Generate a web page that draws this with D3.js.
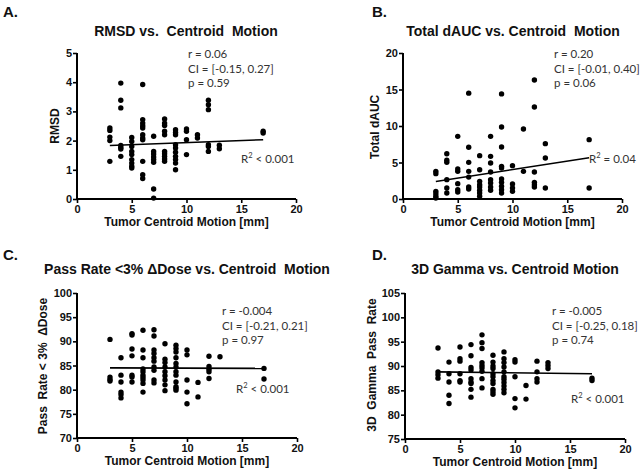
<!DOCTYPE html>
<html><head><meta charset="utf-8">
<script src="https://cdn.jsdelivr.net/npm/d3@7"></script>
<style>
html,body{margin:0;padding:0;background:#fff;}
svg text{white-space:pre;}
</style></head>
<body>
<svg id="chart" width="643" height="475"></svg>
<script>
// ---- data ----
const motionGroups = [3,4,5,6,7,8,9,10,11,12,13,17];

const rmsdValues = [
  [2.43,2.35,2.12,2.0,1.29],
  [3.97,3.38,3.12,1.83,1.76,1.71,1.46],
  [2.11,1.97,1.8,1.63,1.52,1.35,1.23,1.12,1.06],
  [3.92,2.72,2.6,2.51,2.43,2.2,2.09,2.03,1.29,0.83,0.7],
  [2.15,1.63,1.54,1.44,1.35,1.26,0.34,0.03],
  [2.74,2.6,2.52,2.32,2.2,1.63,1.55,1.46,1.37,1.29],
  [2.37,2.28,2.2,1.86,1.75,1.6,1.46,1.35,1.23,1.0],
  [2.4,2.32,2.03,1.52],
  [2.2,2.09],
  [3.38,3.23,3.06,1.86,1.8,1.63],
  [1.84,1.72],
  [2.32,2.26]
];
const daucValues = [
  [3.79,3.47,1.05,0.73,0.37,0.14],
  [6.2,5.3,5.02,2.65,1.5,0.82],
  [8.58,4.1,3.79,2.1,1.28,0.96],
  [14.5,7.08,5.02,3.79,3.0,1.64,1.37],
  [5.94,4.0,2.42,1.96,1.64,1.19,0.82,0.37],
  [8.58,5.84,4.93,3.7,2.65,2.19,1.64,1.19],
  [14.4,9.86,7.12,4.47,4.25,2.74,2.28,1.74,1.28,0.82],
  [4.57,2.05,1.5,1.05],
  [9.59,3.79],
  [16.3,12.6,3.7,2.28,1.96,1.64],
  [7.58,5.62,1.5],
  [8.13,1.5]
];
const passRateValues = [
  [90.4,82.6,82.1,81.8],
  [86.6,83.0,81.6,79.5,79.0,78.3],
  [91.6,91.3,88.4,87.0,83.0,82.6,81.6],
  [92.3,88.2,86.6,84.3,83.7,83.0,82.5,82.0,81.3,79.5],
  [92.4,91.1,88.2,87.5,86.6,85.9,84.7,84.0,82.0,81.4],
  [89.5,86.3,85.6,84.7,83.7,82.9,82.0,81.0,79.8],
  [89.2,88.5,87.8,86.6,85.4,84.7,83.7,83.0,81.6,80.6,80.3,79.9],
  [88.2,87.2,82.0,79.5,77.1],
  [81.5,78.5],
  [86.9,84.8,84.2,83.7,82.3],
  [86.8],
  [84.4,82.2]
];
const gammaValues = [
  [93.7,88.8,88.2,87.5],
  [90.8,88.4,86.7,84.0,82.3],
  [93.9,91.5,91.0,88.4,87.0,86.7],
  [94.4,92.1,89.7,89.2,87.4,86.7,86.4,85.2,83.6],
  [96.4,94.8,93.6,90.7,90.1,89.6,88.9,87.4,85.5],
  [92.2,90.8,90.0,89.5,88.4,87.8,87.0,86.4,85.2,84.7,84.2],
  [92.9,91.5,90.7,89.8,88.8,87.8,87.3,86.6,85.9,85.2,84.5],
  [91.3,90.8,87.8,83.3,81.4],
  [86.0,83.2],
  [91.0,88.8,87.4,86.7],
  [90.7,90.1,89.5],
  [87.5,87.0]
];

// regression lines (endpoints)
const rmsdFit = [[3,1.83],[17,2.03]];
const daucFit = [[3,2.4],[17,5.65]];
const passRateFit = [[3,84.5],[17,84.4]];
const gammaFit = [[3,88.8],[17,88.4]];

const xTicks = [0,5,10,15,20];
const rmsdTicks = [0,1,2,3,4,5];
const daucTicks = [0,5,10,15,20];
const passRateTicks = [70,75,80,85,90,95,100];
const gammaTicks = [75,80,85,90,95,100,105];

const rmsdStats = ["r = 0.06","CI = [-0.15, 0.27]","p = 0.59"];
const daucStats = ["r = 0.20","CI = [-0.01, 0.40]","p = 0.06"];
const passRateStats = ["r = -0.004","CI = [-0.21, 0.21]","p = 0.97"];
const gammaStats = ["r = -0.005","CI = [-0.25, 0.18]","p = 0.74"];

const rSquared = ["< 0.001","= 0.04","< 0.001","< 0.001"];

// ---- layout ----
const panels = [
  {letter:"A.", title:"RMSD vs.  Centroid  Motion", ylabel:"RMSD",
   values:rmsdValues, fit:rmsdFit, yTicks:rmsdTicks, stats:rmsdStats, r2:rSquared[0],
   x0:77, x1:296, yb:199, yt:53, lx:3, ly:17, tx:186, ty:36, ylx:55, yly:126,
   sx:188, sy:58, rx:241, ry:163},
  {letter:"B.", title:"Total dAUC vs. Centroid  Motion", ylabel:"Total dAUC",
   values:daucValues, fit:daucFit, yTicks:daucTicks, stats:daucStats, r2:rSquared[1],
   x0:403, x1:622, yb:199, yt:53, lx:372, ly:17, tx:513, ty:36, ylx:375, yly:127,
   sx:554, sy:58, rx:589, ry:163},
  {letter:"C.", title:"Pass Rate <3% \u0394Dose vs. Centroid  Motion", ylabel:"Pass  Rate < 3%  \u0394Dose",
   values:passRateValues, fit:passRateFit, yTicks:passRateTicks, stats:passRateStats, r2:rSquared[2],
   x0:77, x1:297, yb:438, yt:293, lx:3, ly:260, tx:187, ty:274, ylx:43, yly:366,
   sx:222, sy:315, rx:236, ry:393},
  {letter:"D.", title:"3D Gamma vs. Centroid Motion", ylabel:"3D  Gamma  Pass  Rate",
   values:gammaValues, fit:gammaFit, yTicks:gammaTicks, stats:gammaStats, r2:rSquared[3],
   x0:405, x1:625, yb:439, yt:293, lx:372, ly:260, tx:515, ty:274, ylx:372, yly:365,
   sx:552, sy:315, rx:571, ry:403}
];

const svg = d3.select("#chart");
const boldFont = "'Liberation Sans', Arial, sans-serif";
const statFont = "Lato, 'Open Sans', sans-serif";

panels.forEach(p => {
  const g = svg.append("g");
  const x = d3.scaleLinear().domain([0,20]).range([p.x0,p.x1]);
  const yDom = d3.extent(p.yTicks);
  const y = d3.scaleLinear().domain(yDom).range([p.yb,p.yt]);

  // panel letter & title
  g.append("text").attr("x",p.lx).attr("y",p.ly).text(p.letter)
    .attr("font-family",boldFont).attr("font-weight","bold").attr("font-size",15).attr("fill","#111");
  g.append("text").attr("x",p.tx).attr("y",p.ty).text(p.title)
    .attr("text-anchor","middle").attr("font-family",boldFont).attr("font-weight","bold")
    .attr("font-size",14).attr("fill","#111");

  // axes
  const xAxis = d3.axisBottom(x).tickValues(xTicks).tickFormat(d3.format("d")).tickSize(4).tickPadding(2);
  const yAxis = d3.axisLeft(y).tickValues(p.yTicks).tickFormat(d3.format("d")).tickSize(4).tickPadding(1);
  const gx = g.append("g").attr("transform",`translate(0,${p.yb})`).call(xAxis);
  const gy = g.append("g").attr("transform",`translate(${p.x0},0)`).call(yAxis);
  [gx,gy].forEach(a => {
    a.select(".domain").attr("stroke","#000").attr("stroke-width",2);
    a.selectAll(".tick line").attr("stroke","#000").attr("stroke-width",1.6);
    a.selectAll(".tick text").attr("font-family",boldFont).attr("font-weight","bold")
      .attr("font-size",11).attr("fill","#111");
  });
  gx.select(".domain").attr("d",`M${p.x0},0H${p.x1}`);
  gy.select(".domain").attr("d",`M0,${p.yt}V${p.yb}`);

  // axis titles
  g.append("text").attr("x",(p.x0+p.x1)/2).attr("y",p.yb+27).text("Tumor Centroid Motion [mm]")
    .attr("text-anchor","middle").attr("font-family",boldFont).attr("font-weight","bold")
    .attr("font-size",12).attr("fill","#111");
  g.append("text").attr("transform",`translate(${p.ylx},${p.yly}) rotate(-90)`)
    .attr("dy","0.35em").text(p.ylabel)
    .attr("text-anchor","middle").attr("font-family",boldFont).attr("font-weight","bold")
    .attr("font-size",12).attr("fill","#111");

  // points
  const pts = [];
  motionGroups.forEach((m,i) => p.values[i].forEach(v => pts.push([m,v])));
  g.append("g").selectAll("circle").data(pts).join("circle")
    .attr("cx",d=>x(d[0])).attr("cy",d=>y(d[1])).attr("r",2.7).attr("fill","#000");

  // fit line
  g.append("path").datum(p.fit)
    .attr("d",d3.line().x(d=>x(d[0])).y(d=>y(d[1])))
    .attr("stroke","#000").attr("stroke-width",1.6).attr("fill","none");

  // stats
  p.stats.forEach((s,i) => {
    g.append("text").attr("x",p.sx).attr("y",p.sy+i*14.5).text(s)
      .attr("font-family",statFont).attr("font-size",11.5).attr("fill","#333");
  });
  const r2 = g.append("text").attr("x",p.rx).attr("y",p.ry)
    .attr("font-family",statFont).attr("font-size",11.5).attr("fill","#333");
  r2.append("tspan").text("R");
  r2.append("tspan").text("2").attr("font-size",7.5).attr("dy",-5);
  r2.append("tspan").text(" " + p.r2).attr("dy",5);
});
</script>
</body></html>
